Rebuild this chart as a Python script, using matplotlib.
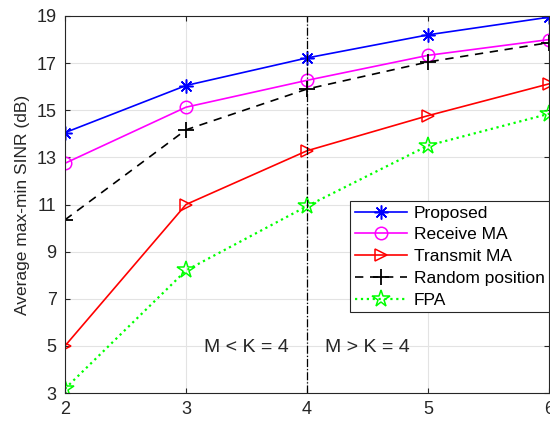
import matplotlib
matplotlib.use("Agg")
import matplotlib.pyplot as plt

M = [2, 3, 4, 5, 6]
proposed = [14.05, 16.05, 17.22, 18.2, 18.95]
receive_ma = [12.75, 15.13, 16.27, 17.33, 18.0]
transmit_ma = [5.0, 11.0, 13.28, 14.77, 16.12]
random_pos = [10.35, 14.17, 15.9, 17.05, 17.87]
fpa = [3.18, 8.2, 10.93, 13.5, 14.85]

yticks = [3, 5, 7, 9, 11, 13, 15, 17, 19]

plt.rcParams["font.family"] = ["Liberation Sans", "DejaVu Sans"]

fig = plt.figure(figsize=(5.5, 4.21), dpi=100)
ax = fig.add_axes([65 / 550, 28 / 421, 484 / 550, 377 / 421])

ax.plot(M, proposed, "-", color="blue", marker=(8, 2, 0), ms=10,
        mec="blue", mew=1.1, lw=1.2, label="Proposed")
ax.plot(M, receive_ma, "-", color="magenta", marker="o", ms=9, mfc="none",
        mew=1.1, lw=1.2, label="Receive MA")
ax.plot(M, transmit_ma, "-", color="red", marker=">", ms=9, mfc="none",
        mew=1.1, lw=1.2, label="Transmit MA")
ax.plot(M, random_pos, "--", color="black", marker="+", ms=11, mew=1.3,
        lw=1.2, dashes=(5, 4), label="Random position")
ax.plot(M, fpa, ":", color="#00ff00", marker="*", ms=13, mfc="none",
        mew=1.1, lw=1.6, label="FPA")

# boundary between the two antenna regimes
ax.axvline(4, color="black", lw=0.9, ls="-.")
ax.text(3.5, 4.95, "M < K = 4", fontsize=14, ha="center", va="center",
        color="#262626")
ax.text(4.5, 4.95, "M > K = 4", fontsize=14, ha="center", va="center",
        color="#262626")

ax.set_xlim(2, 6)
ax.set_ylim(3, 19)
ax.set_xticks(M)
ax.set_yticks(yticks)
ax.tick_params(direction="in", labelsize=13, top=True, right=True,
               colors="#262626", pad=6)
ax.grid(True, color="#e3e3e3", lw=0.8)
ax.set_axisbelow(True)
for sp in ax.spines.values():
    sp.set_color("#262626")
    sp.set_linewidth(0.8)
ax.set_ylabel("Average max-min SINR (dB)", fontsize=12.5, color="#262626",
              labelpad=5)

leg = ax.legend(loc="lower right", bbox_to_anchor=(1.0, 0.215), fontsize=12.5,
                fancybox=False, framealpha=1, edgecolor="#262626",
                borderpad=0.25, labelspacing=0.38, handlelength=3.0,
                handletextpad=0.4, borderaxespad=0)
leg.get_frame().set_linewidth(0.8)

fig.savefig("out.png", dpi=100)
